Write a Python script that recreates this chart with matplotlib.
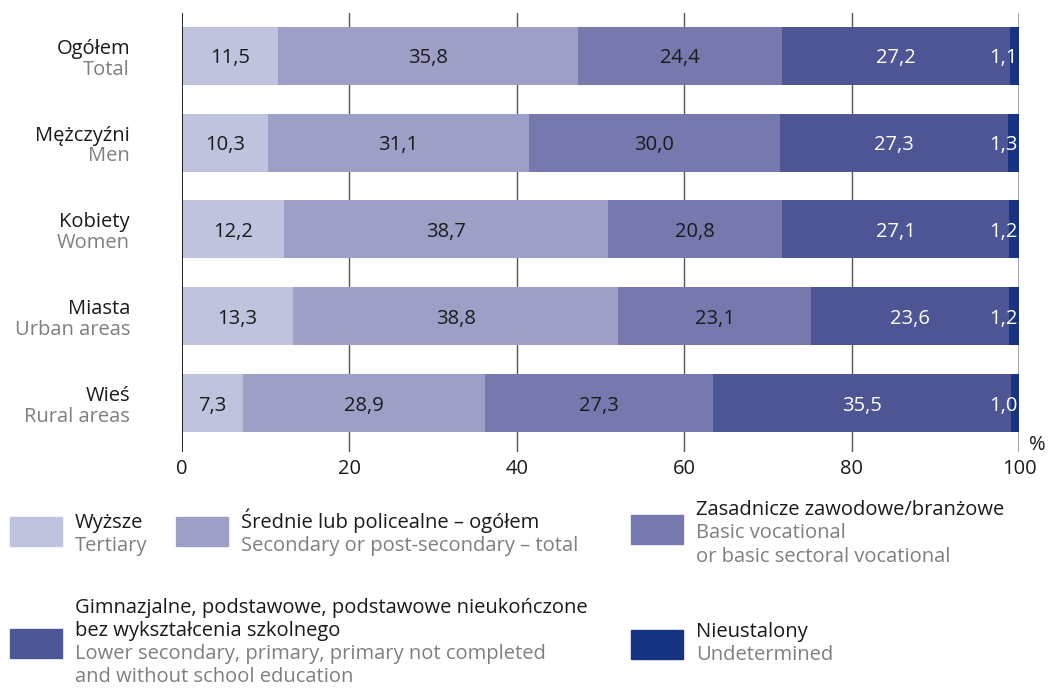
import matplotlib.pyplot as plt
import matplotlib.patches as mpatches

plt.rcParams['font.family'] = ['Open Sans', 'DejaVu Sans']

# dane
groups_pl = ['Ogółem', 'Mężczyźni', 'Kobiety', 'Miasta', 'Wieś']
groups_en = ['Total', 'Men', 'Women', 'Urban areas', 'Rural areas']
tertiary = [11.5, 10.3, 12.2, 13.3, 7.3]
secondary = [35.8, 31.1, 38.7, 38.8, 28.9]
vocational = [24.4, 30.0, 20.8, 23.1, 27.3]
lower = [27.2, 27.3, 27.1, 23.6, 35.5]
undetermined = [1.1, 1.3, 1.2, 1.2, 1.0]

series = [tertiary, secondary, vocational, lower, undetermined]
colors = ['#c0c3de', '#9d9fc7', '#7679ae', '#4e5595', '#163384']
text_colors = ['#1a1a1a', '#1a1a1a', '#1a1a1a', 'white', 'white']

legend_pl = [['Wyższe'], ['Średnie lub policealne – ogółem'],
             ['Zasadnicze zawodowe/branżowe'],
             ['Gimnazjalne, podstawowe, podstawowe nieukończone',
              'bez wykształcenia szkolnego'],
             ['Nieustalony']]
legend_en = [['Tertiary'], ['Secondary or post-secondary – total'],
             ['Basic vocational', 'or basic sectoral vocational'],
             ['Lower secondary, primary, primary not completed',
              'and without school education'],
             ['Undetermined']]

dark = '#1a1a1a'
gray = '#7f7f7f'
fs = 14.5

W, H = 1053, 689
fig = plt.figure(figsize=(10.53, 6.89), dpi=100)
ax = fig.add_axes([182 / W, 1 - 452 / H, 837 / W, 439 / H])

# siatka
for x in [20, 40, 60, 80]:
    ax.axvline(x, color='#555555', lw=1, zorder=0)
ax.axvline(100, color='#999999', lw=1.2, zorder=0)
ax.axvline(0, color='black', lw=1.2, zorder=3)

y = list(range(len(groups_pl)))
left = [0] * len(y)
for vals, col, tc in zip(series, colors, text_colors):
    ax.barh(y, vals, left=left, height=0.667, color=col, zorder=2)
    for i, v in enumerate(vals):
        lab = f'{v:.1f}'.replace('.', ',')
        if vals is undetermined:
            ax.text(99.8, i, lab, ha='right', va='center_baseline', color=tc, fontsize=fs, zorder=4)
        else:
            ax.text(left[i] + v / 2, i, lab, ha='center', va='center_baseline', color=tc,
                    fontsize=fs, zorder=4)
    left = [l + v for l, v in zip(left, vals)]

ax.set_xlim(0, 100)
ax.set_ylim(4.56, -0.49)
ax.set_xticks([0, 20, 40, 60, 80, 100])
ax.tick_params(axis='x', length=0, labelsize=fs, colors=dark, pad=5)
ax.set_yticks([])
for s in ax.spines.values():
    s.set_visible(False)
fig.text(1037 / W, 1 - 443 / H, '%', ha='center', va='center_baseline', fontsize=fs, color=dark)

for i in y:
    ax.text(-6.2, i - 0.023, groups_pl[i], ha='right', va='baseline', fontsize=fs, color=dark)
    ax.text(-6.2, i + 0.218, groups_en[i], ha='right', va='baseline', fontsize=fs, color=gray)

# legenda: (kwadrat x, kwadrat y, tekst x, pierwsza linia bazowa, odstęp)
legend_pos = [(10, 517, 75, 528, 23.5), (176, 517, 241, 528, 23.5),
              (631, 515, 696, 515, 23.5),
              (10, 629, 75, 613, 23), (631, 630, 696, 637, 23)]
for (sx, sy, tx, ty, dy), col, pl, en in zip(legend_pos, colors, legend_pl, legend_en):
    fig.patches.append(mpatches.Rectangle((sx / W, 1 - (sy + 29) / H), 52 / W, 29 / H,
                                          color=col, transform=fig.transFigure))
    k = 0
    for line in pl:
        fig.text(tx / W, 1 - (ty + dy * k) / H, line, ha='left', va='baseline',
                 fontsize=fs, color=dark)
        k += 1
    for line in en:
        fig.text(tx / W, 1 - (ty + dy * k) / H, line, ha='left', va='baseline',
                 fontsize=fs, color=gray)
        k += 1

fig.savefig('out.png', dpi=100)
